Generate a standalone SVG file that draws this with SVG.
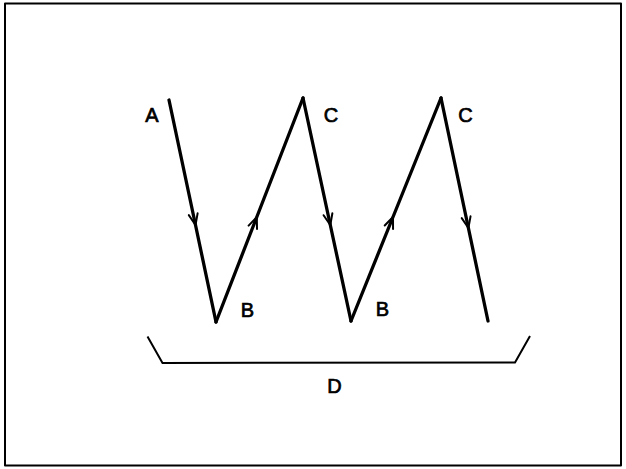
<svg xmlns="http://www.w3.org/2000/svg" width="626" height="469" viewBox="0 0 626 469">
<style>
.lbl{font-family:"Liberation Sans",Arial,sans-serif;font-size:20px;fill:#000;stroke:#000;stroke-width:0.7;text-anchor:middle}
.seg{fill:none;stroke:#000;stroke-width:3.3;stroke-linecap:round;stroke-linejoin:round}
.thin{fill:none;stroke:#000;stroke-width:2;stroke-linejoin:round}
</style>
<defs>
<marker id="chev" markerUnits="userSpaceOnUse" markerWidth="24" markerHeight="24" refX="0" refY="0" viewBox="-12 -12 24 24" orient="auto" overflow="visible">
<path d="M-11,-4.5 L0,0 L-11,4.5" fill="none" stroke="#000" stroke-width="2" stroke-linecap="round" stroke-linejoin="round"/>
</marker>
</defs>
<rect x="0" y="0" width="626" height="469" fill="#fff"/>
<rect id="frame" x="5" y="3.5" width="616" height="462" class="thin"/>
<g id="connectors">
<path class="seg" d="M169,100 L195.5,225 L216,322" marker-mid="url(#chev)"/>
<path class="seg" d="M216,322 L256.8,217 L303,98" marker-mid="url(#chev)"/>
<path class="seg" d="M303,98 L330.3,225 L351,321" marker-mid="url(#chev)"/>
<path class="seg" d="M351,321 L393,217 L441,98" marker-mid="url(#chev)"/>
<path class="seg" d="M441,98 L468.4,228 L488,321" marker-mid="url(#chev)"/>
<path id="bracket" class="thin" d="M147.5,336.5 L162.5,363 L515,362.5 L530,336"/>
</g>
<g id="nodeA"><text class="lbl" x="152" y="122">A</text></g>
<g id="nodeB1"><text class="lbl" x="247.5" y="317">B</text></g>
<g id="nodeC1"><text class="lbl" x="331" y="122">C</text></g>
<g id="nodeB2"><text class="lbl" x="382.5" y="316">B</text></g>
<g id="nodeC2"><text class="lbl" x="465.5" y="122">C</text></g>
<g id="nodeD"><text class="lbl" x="334.5" y="393">D</text></g>
</svg>
